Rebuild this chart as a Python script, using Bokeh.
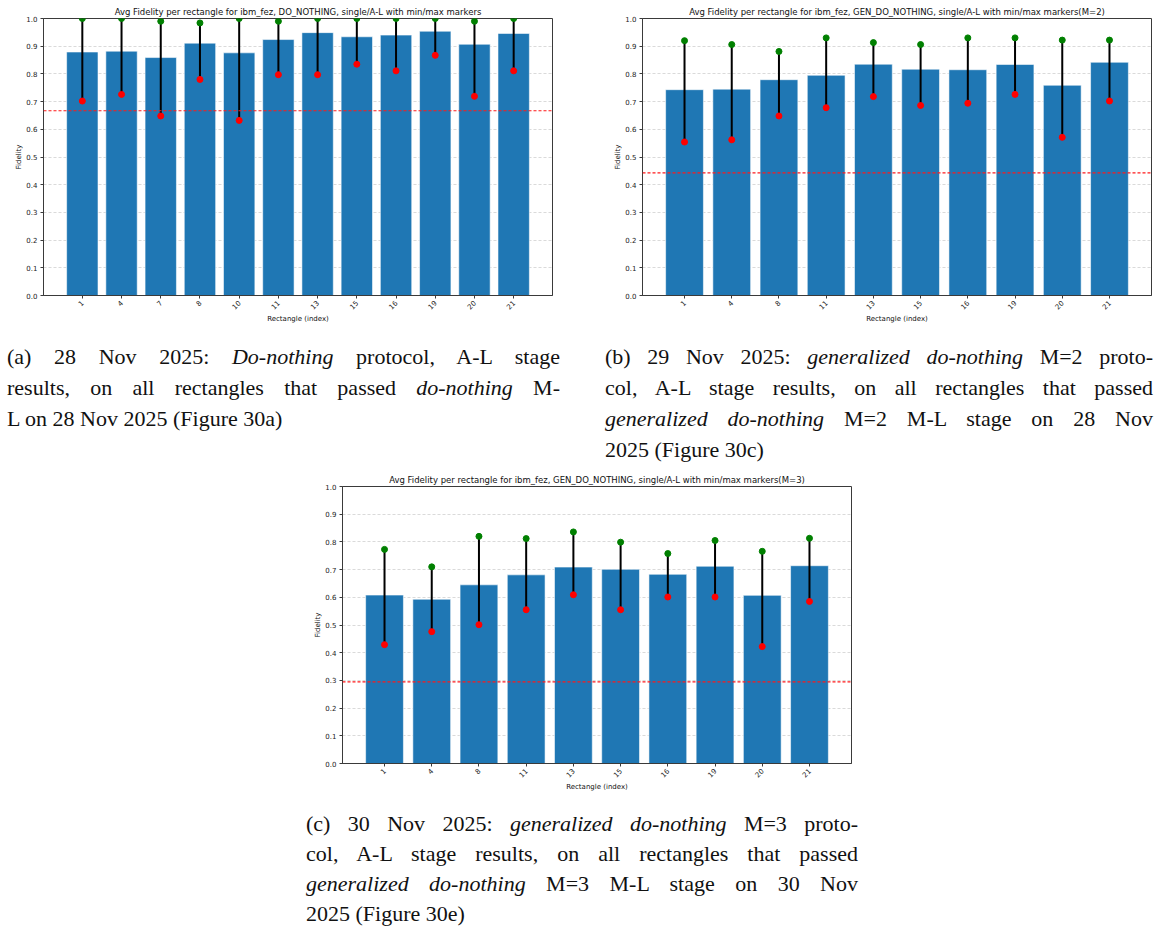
from math import pi

from bokeh.embed import file_html
from bokeh.layouts import column, row
from bokeh.models import (ColumnDataSource, Div, FactorRange, FixedTicker,
                          PrintfTickFormatter, Range1d, Spacer, Span)
from bokeh.plotting import figure
from bokeh.resources import INLINE

# --- 28 Nov 2025, do-nothing, A-L stage ---
rects_a = ["1", "4", "7", "8", "10", "11", "13", "15", "16", "19", "20", "21"]
avg_a = [0.879, 0.882, 0.859, 0.911, 0.876, 0.924, 0.949, 0.934, 0.940, 0.954, 0.907, 0.946]
min_a = [0.702, 0.726, 0.648, 0.780, 0.632, 0.797, 0.797, 0.835, 0.811, 0.867, 0.719, 0.811]
max_a = [1.000, 1.000, 0.990, 0.984, 1.000, 0.990, 1.000, 1.000, 1.000, 1.000, 0.990, 1.000]
thr_a = 0.667

# --- 29 Nov 2025, generalized do-nothing M=2 ---
rects_b = ["1", "4", "8", "11", "13", "15", "16", "19", "20", "21"]
avg_b = [0.743, 0.745, 0.779, 0.795, 0.835, 0.817, 0.815, 0.834, 0.759, 0.842]
min_b = [0.554, 0.562, 0.648, 0.678, 0.718, 0.686, 0.694, 0.726, 0.571, 0.702]
max_b = [0.920, 0.906, 0.881, 0.930, 0.913, 0.906, 0.930, 0.930, 0.922, 0.922]
thr_b = 0.443

# --- 30 Nov 2025, generalized do-nothing M=3 ---
rects_c = ["1", "4", "8", "11", "13", "15", "16", "19", "20", "21"]
avg_c = [0.608, 0.593, 0.645, 0.681, 0.709, 0.701, 0.683, 0.712, 0.607, 0.714]
min_c = [0.429, 0.476, 0.501, 0.555, 0.609, 0.555, 0.601, 0.601, 0.422, 0.585]
max_c = [0.773, 0.710, 0.820, 0.812, 0.836, 0.799, 0.758, 0.805, 0.766, 0.813]
thr_c = 0.295

title_a = "Avg Fidelity per rectangle for ibm_fez, DO_NOTHING, single/A-L with min/max markers"
title_b = "Avg Fidelity per rectangle for ibm_fez, GEN_DO_NOTHING, single/A-L with min/max markers(M=2)"
title_c = "Avg Fidelity per rectangle for ibm_fez, GEN_DO_NOTHING, single/A-L with min/max markers(M=3)"

y_ticks = [0.0, 0.1, 0.2, 0.3, 0.4, 0.5, 0.6, 0.7, 0.8, 0.9, 1.0]

caption_a = [
    "(a) 28 Nov 2025: <i>Do-nothing</i> protocol, A-L stage",
    "results, on all rectangles that passed <i>do-nothing</i> M-",
    "L on 28 Nov 2025 (Figure 30a)",
]
caption_b = [
    "(b) 29 Nov 2025: <i>generalized do-nothing</i> M=2 proto-",
    "col, A-L stage results, on all rectangles that passed",
    "<i>generalized do-nothing</i> M=2 M-L stage on 28 Nov",
    "2025 (Figure 30c)",
]
caption_c = [
    "(c) 30 Nov 2025: <i>generalized do-nothing</i> M=3 proto-",
    "col, A-L stage results, on all rectangles that passed",
    "<i>generalized do-nothing</i> M=3 M-L stage on 30 Nov",
    "2025 (Figure 30e)",
]

SANS = "DejaVu Sans"
SPINE = "#3a3a3a"


def panel(title, rects, avg, mn, mx, thr, right_border):
    n = len(rects)
    # same side margins as a default bar chart: 5% of the bar extent
    pad = 0.05 * (n - 0.2) - 0.1
    p = figure(
        x_range=FactorRange(factors=rects, range_padding=pad,
                            range_padding_units="absolute"),
        y_range=Range1d(0, 1),
        frame_width=509, frame_height=277,
        min_border_left=43, min_border_right=right_border,
        min_border_top=18, min_border_bottom=35,
        output_backend="svg", toolbar_location=None,
        background_fill_color="white", border_fill_color="white",
    )
    p.title.text = title
    p.title.align = "center"
    p.title.text_font = SANS
    p.title.text_font_size = "8.5px"
    p.title.text_font_style = "normal"
    p.title.text_color = "#111111"
    p.title.standoff = 4

    p.outline_line_color = SPINE
    p.outline_line_width = 1

    src = ColumnDataSource(dict(x=rects, avg=avg, lo=mn, hi=mx))
    p.vbar(x="x", top="avg", width=0.8, source=src, fill_color="#1f77b4",
           line_color="white", line_alpha=0.55, line_width=1)
    p.add_layout(Span(location=thr, dimension="width", line_color="#ff1a1a",
                      line_dash="3 2", line_width=1.2, line_alpha=1.0,
                      level="overlay"))
    p.segment(x0="x", y0="lo", x1="x", y1="hi", source=src,
              line_color="black", line_width=2)
    p.scatter(x="x", y="hi", source=src, size=6, fill_color="green",
              line_color="green")
    p.scatter(x="x", y="lo", source=src, size=6, fill_color="red",
              line_color="red")

    p.xgrid.visible = False
    p.ygrid.grid_line_color = "#c4c4c4"
    p.ygrid.grid_line_dash = "3 2"
    p.ygrid.grid_line_width = 0.8
    p.ygrid.grid_line_alpha = 0.8
    p.ygrid.ticker = FixedTicker(ticks=y_ticks)

    p.yaxis.ticker = FixedTicker(ticks=y_ticks)
    p.yaxis.formatter = PrintfTickFormatter(format="%.1f")
    p.yaxis.axis_label = "Fidelity"
    p.xaxis.axis_label = "Rectangle (index)"
    p.xaxis.major_label_orientation = pi / 4

    for ax in (p.xaxis, p.yaxis):
        ax.axis_line_color = SPINE
        ax.major_tick_line_color = SPINE
        ax.major_tick_in = 0
        ax.major_tick_out = 3
        ax.minor_tick_line_color = None
        ax.major_label_text_font = SANS
        ax.major_label_text_font_size = "7px"
        ax.major_label_text_color = "#222222"
        ax.major_label_standoff = 3
        ax.axis_label_text_font = SANS
        ax.axis_label_text_font_size = "7px"
        ax.axis_label_text_font_style = "normal"
        ax.axis_label_text_color = "#111111"
        ax.axis_label_standoff = 0
    return p


def caption(lines, width, left, pad_top, height, line_height=31, box_width=None):
    rows = []
    for i, line in enumerate(lines):
        last = "left" if i == len(lines) - 1 else "justify"
        rows.append(
            f'<div style="text-align:justify;text-align-last:{last};">{line}</div>'
        )
    html = (
        f'<div style="margin-left:{left}px;width:{width}px;padding-top:{pad_top}px;'
        "font-family:'Liberation Serif',serif;font-size:22px;"
        f'line-height:{line_height}px;color:#111111;">' + "".join(rows) + "</div>"
    )
    return Div(text=html, width=box_width or (left + width), height=height,
               margin=0)


fig_a = panel(title_a, rects_a, avg_a, min_a, max_a, thr_a, right_border=47)
fig_b = panel(title_b, rects_b, avg_b, min_b, max_b, thr_b, right_border=2)
fig_c = panel(title_c, rects_c, avg_c, min_c, max_c, thr_c, right_border=2)

cap_a = caption(caption_a, width=553, left=7, pad_top=11, height=138, box_width=599)
cap_b = caption(caption_b, width=548, left=6, pad_top=11, height=138)
cap_c = caption(caption_c, width=552, left=306, pad_top=11, height=130,
                line_height=30)

layout = column(
    row(fig_a, fig_b),
    row(cap_a, cap_b),
    row(Spacer(width=299, height=330), fig_c),
    cap_c,
)

open("out.html", "w").write(file_html(layout, INLINE))
